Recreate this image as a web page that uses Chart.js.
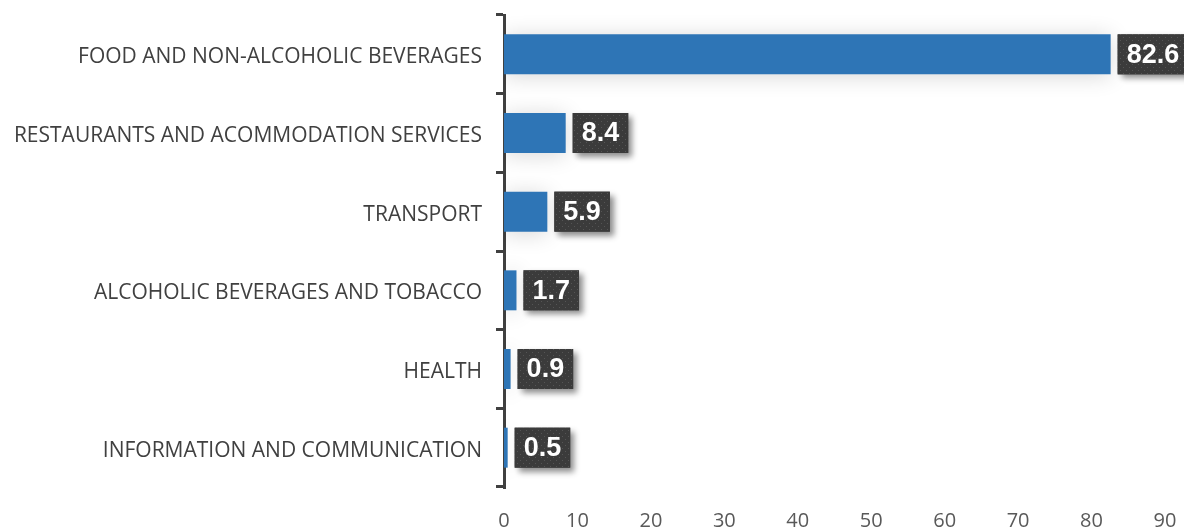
<!DOCTYPE html>
<html><head><meta charset="utf-8">
<script src="https://cdn.jsdelivr.net/npm/chart.js@4/dist/chart.umd.min.js"></script>
<style>html,body{margin:0;padding:0;background:#fff}#wrap{width:1184px;height:528px;position:relative}</style>
</head><body><div id="wrap"><canvas id="c" width="1184" height="528"></canvas></div>
<script>
const categories = ["FOOD AND NON-ALCOHOLIC BEVERAGES","RESTAURANTS AND ACOMMODATION SERVICES","TRANSPORT","ALCOHOLIC BEVERAGES AND TOBACCO","HEALTH","INFORMATION AND COMMUNICATION"];
const values = [82.6, 8.4, 5.9, 1.7, 0.9, 0.5];
const xTicks = [0,10,20,30,40,50,60,70,80,90];

function makePattern(ctx){
  const p = document.createElement('canvas'); p.width = 6; p.height = 6;
  const g = p.getContext('2d');
  g.fillStyle = '#3b3b3b'; g.fillRect(0,0,6,6);
  g.fillStyle = '#555555'; g.fillRect(1,1,1,1); g.fillRect(4,4,1,1);
  return ctx.createPattern(p,'repeat');
}

const barShadow = {
  id:'barShadow',
  beforeDatasetDraw(chart){
    const ctx = chart.ctx; ctx.save();
    ctx.shadowColor = 'rgba(0,0,0,0.16)'; ctx.shadowBlur = 22; ctx.shadowOffsetX = 0; ctx.shadowOffsetY = 2;
  },
  afterDatasetDraw(chart){ chart.ctx.restore(); }
};

const labelPlugin = {
  id:'boxLabels',
  afterDatasetsDraw(chart){
    const ctx = chart.ctx;
    const meta = chart.getDatasetMeta(0);
    const pat = makePattern(ctx);
    ctx.save();
    ctx.font = 'bold 27px "Liberation Sans", Arial, sans-serif';
    meta.data.forEach((bar,i)=>{
      const txt = values[i].toFixed(1);
      const tw = ctx.measureText(txt).width;
      const w = tw + 18, h = bar.height;
      const x = bar.x + 7, y = bar.y - h/2;
      ctx.save();
      ctx.shadowColor = 'rgba(0,0,0,0.45)';
      ctx.shadowBlur = 6; ctx.shadowOffsetX = 4; ctx.shadowOffsetY = 4;
      ctx.fillStyle = '#3b3b3b';
      ctx.fillRect(x,y,w,h);
      ctx.restore();
      ctx.fillStyle = pat; ctx.fillRect(x,y,w,h);
      ctx.fillStyle = '#ffffff';
      ctx.textAlign = 'left'; ctx.textBaseline = 'middle';
      ctx.fillText(txt, x + 9, bar.y + 1);
    });
    ctx.restore();
  }
};

new Chart(document.getElementById('c'),{
  type:'bar',
  data:{labels:categories,datasets:[{data:values,backgroundColor:'#2E75B6',barPercentage:0.508,categoryPercentage:1.0}]},
  options:{
    indexAxis:'y', responsive:false, animation:false,
    layout:{padding:{top:15,right:19,left:0,bottom:0}},
    plugins:{legend:{display:false},tooltip:{enabled:false}},
    scales:{
      x:{min:0,max:90,afterBuildTicks(s){s.ticks = xTicks.map(v=>({value:v}));},
        grid:{display:false}, border:{display:false},
        ticks:{color:'#595959',font:{family:'"Open Sans", sans-serif',size:20},padding:14,maxRotation:0},
        afterFit(s){s.height = 41; s.paddingLeft = 0; s.paddingRight = 0;}},
      y:{grid:{display:true,offset:true,drawOnChartArea:false,tickLength:8,color:'#404040',lineWidth:3},
        border:{display:true,color:'#404040',width:3},
        ticks:{color:'#404040',font:{family:'"Open Sans", sans-serif',size:21},padding:14,labelOffset:3},
        afterFit(s){s.width = 504; s.paddingTop = 0; s.paddingBottom = 0;}}
    }
  },
  plugins:[barShadow,labelPlugin]
});
</script></body></html>
